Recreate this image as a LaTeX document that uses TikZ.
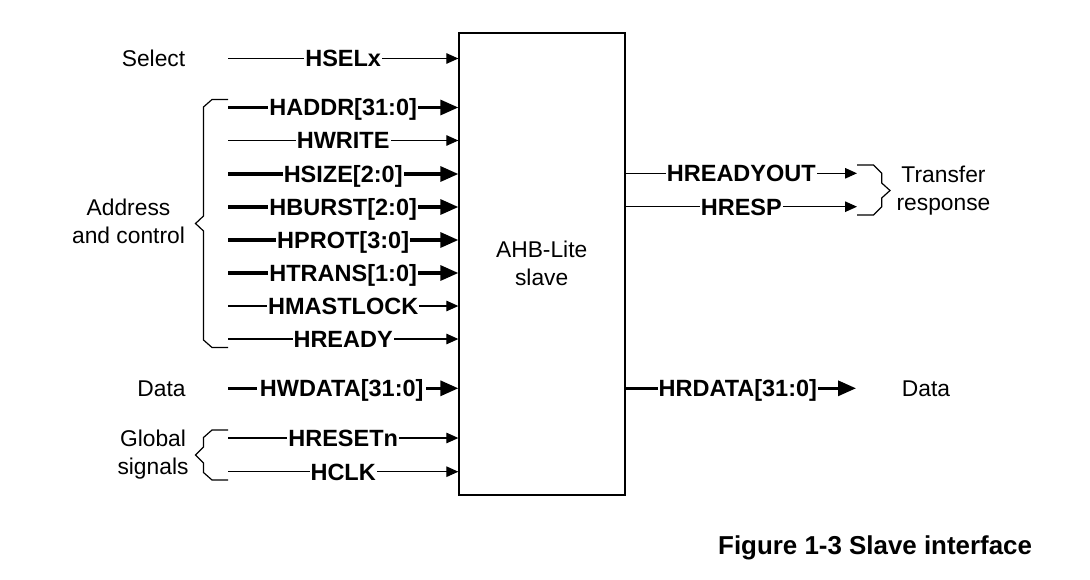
\documentclass[tikz,border=0pt]{standalone}
\usepackage{fontspec}
\setmainfont{Liberation Sans}
\usetikzlibrary{arrows.meta}
\begin{document}
\begin{tikzpicture}[x=1pt,y=-1pt,
  sig/.style={line width=1.2pt, -{Triangle[length=12pt,width=10.5pt]}},
  bus/.style={line width=3.2pt, -{Triangle[length=18pt,width=15pt]}},
  lbl/.style={fill=white, inner xsep=1pt, inner ysep=0pt, anchor=base, yshift=-8.4pt,
    font=\fontsize{23.5pt}{28pt}\selectfont\bfseries},
  txt/.style={inner sep=0pt, anchor=base, font=\fontsize{22.8pt}{28pt}\selectfont},
  brace/.style={line width=1.2pt, line join=miter}]
\path[use as bounding box] (0,0) rectangle (1090,579);

% slave block
\node[draw, line width=1.3pt, minimum width=166pt, minimum height=462pt, inner sep=0pt] (box) at (542,264) {};
\node[txt] (boxlbl) at (541.7,257.3) {\begin{tabular}[t]{@{}c@{}}AHB-Lite\\slave\end{tabular}};

% input start points
\coordinate (iSEL)  at (228,58.5);
\coordinate (iADDR) at (228,107.5);
\coordinate (iWR)   at (228,140.5);
\coordinate (iSIZE) at (228,174);
\coordinate (iBUR)  at (228,207);
\coordinate (iPROT) at (228,240);
\coordinate (iTRAN) at (228,273);
\coordinate (iLOCK) at (228,306);
\coordinate (iRDY)  at (228,339);
\coordinate (iWD)   at (228,388.3);
\coordinate (iRST)  at (228,438);
\coordinate (iCLK)  at (228,471.7);

\draw[sig] (iSEL)  -- node[lbl] (lSEL)  {HSELx} (iSEL -| box.west);
\draw[bus] (iADDR) -- node[lbl] (lADDR) {HADDR[31:0]} (iADDR -| box.west);
\draw[sig] (iWR)   -- node[lbl] (lWR)   {HWRITE} (iWR -| box.west);
\draw[bus] (iSIZE) -- node[lbl] (lSIZE) {HSIZE[2:0]} (iSIZE -| box.west);
\draw[bus] (iBUR)  -- node[lbl] (lBUR)  {HBURST[2:0]} (iBUR -| box.west);
\draw[bus] (iPROT) -- node[lbl] (lPROT) {HPROT[3:0]} (iPROT -| box.west);
\draw[bus] (iTRAN) -- node[lbl] (lTRAN) {HTRANS[1:0]} (iTRAN -| box.west);
\draw[sig] (iLOCK) -- node[lbl] (lLOCK) {HMASTLOCK} (iLOCK -| box.west);
\draw[sig] (iRDY)  -- node[lbl] (lRDY)  {HREADY} (iRDY -| box.west);
\draw[bus] (iWD)   -- node[lbl, inner xsep=2.5pt, xshift=-1.5pt] (lWD) {HWDATA[31:0]} (iWD -| box.west);
\draw[sig] (iRST)  -- node[lbl] (lRST)  {HRESETn} (iRST -| box.west);
\draw[sig] (iCLK)  -- node[lbl] (lCLK)  {HCLK} (iCLK -| box.west);

% outputs
\coordinate (oRDY) at (857,173.3);
\coordinate (oRSP) at (857,206.7);
\coordinate (oRD)  at (856,388.3);
\draw[sig] (box.east |- oRDY) -- node[lbl] (lORDY) {HREADYOUT} (oRDY);
\draw[sig] (box.east |- oRSP) -- node[lbl] (lORSP) {HRESP} (oRSP);
\draw[bus] (box.east |- oRD)  -- node[lbl, xshift=-3pt] (lORD) {HRDATA[31:0]} (oRD);

% braces
\draw[brace] (228,99.5) -- (212,99.5) -- (203.5,107) -- (203.5,216) -- (195.5,223.5)
  -- (203.5,231) -- (203.5,340) -- (212,347.5) -- (228,347.5);
\draw[brace] (228,430) -- (212,430) -- (203.5,437.5) -- (203.5,447) -- (195.5,455)
  -- (203.5,463) -- (203.5,472.5) -- (212,480) -- (228,480);
\draw[brace] (857,165) -- (873.5,165) -- (881.7,173.3) -- (881.7,183) -- (890,190.5)
  -- (881.7,198) -- (881.7,206.7) -- (873.5,215) -- (857,215);

% group labels
\node[txt] (tSel)  at (153.5,66.7) {Select};
\node[txt] (tAddr) at (128.5,215) {\begin{tabular}[t]{@{}c@{}}Address\\and control\end{tabular}};
\node[txt] (tData) at (161.5,396) {Data};
\node[txt] (tGlob) at (153,446.7) {\begin{tabular}[t]{@{}c@{}}Global\\signals\end{tabular}};
\node[txt] (tResp) at (943.5,182.5) {\begin{tabular}[t]{@{}c@{}}Transfer\\response\end{tabular}};
\node[txt] (tDout) at (926,396) {Data};

% caption
\node[inner sep=0pt, anchor=base west, font=\fontsize{25.9pt}{30pt}\selectfont\bfseries] (cap)
  at (718,554.3) {Figure 1-3 Slave interface};
\end{tikzpicture}
\end{document}
